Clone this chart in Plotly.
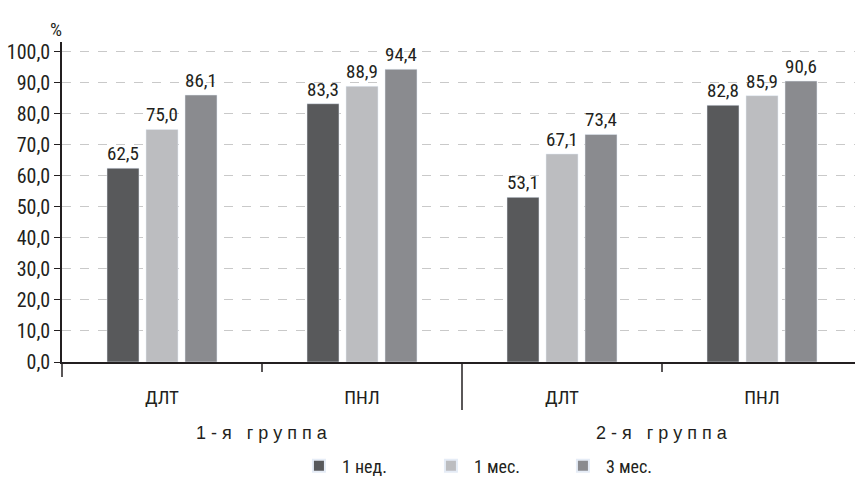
import plotly.graph_objects as go

categories = ["ДЛТ", "ПНЛ", "ДЛТ", "ПНЛ"]
groups = ["1 - я   г р у п п а", "2 - я   г р у п п а"]
series_names = ["1 нед.", "1 мес.", "3 мес."]
week1 = [62.5, 83.3, 53.1, 82.8]
month1 = [75.0, 88.9, 67.1, 85.9]
month3 = [86.1, 94.4, 73.4, 90.6]
y_ticks = [0, 10, 20, 30, 40, 50, 60, 70, 80, 90, 100]

colors = ["#58595b", "#bcbdc0", "#8a8b8f"]
narrow = ("Liberation Sans Narrow, Arial Narrow, Roboto Condensed, "
          "DejaVu Sans Condensed, Liberation Sans, sans-serif")
ink = "#231f20"
x_pos = list(range(len(categories)))

fig = go.Figure()
for name, vals, col in zip(series_names, [week1, month1, month3], colors):
    fig.add_trace(go.Bar(
        x=x_pos, y=vals, name=name, marker_color=col,
        texttemplate="%{y:.1f}", textposition="outside",
        textfont=dict(family=narrow, size=19, color=ink),
        cliponaxis=False,
    ))

# boundary ticks under the category axis; the middle one separates the groups
shapes = []
for xb, length in [(0.5, 0.031), (1.5, 0.15), (2.5, 0.031)]:
    shapes.append(dict(type="line", xref="x", yref="paper", x0=xb, x1=xb,
                       y0=0, y1=-length, line=dict(color=ink, width=1.5)))
# y axis line continues slightly below zero
shapes.append(dict(type="line", xref="paper", yref="paper", x0=0, x1=0,
                   y0=0, y1=-0.047, line=dict(color=ink, width=1.5)))

annotations = [
    dict(text=g, x=xc, xref="x", y=-0.222, yref="paper", yanchor="middle",
         showarrow=False,
         font=dict(family="Liberation Sans, Arial, sans-serif", size=18, color=ink))
    for g, xc in zip(groups, [0.5, 2.5])
]
annotations.append(dict(text="%", x=-0.007, xref="paper", xanchor="center",
                        y=1.04, yref="paper", yanchor="middle", showarrow=False,
                        font=dict(family=narrow, size=19, color=ink)))

fig.update_layout(
    width=855, height=477,
    margin=dict(l=62, r=0, t=42, b=115, autoexpand=False),
    paper_bgcolor="white", plot_bgcolor="white",
    separators=", ",
    barmode="group", bargap=0.415, bargroupgap=0.18,
    showlegend=True,
    legend=dict(orientation="h", x=0.295, xanchor="left", y=-0.325, yanchor="middle",
                font=dict(family=narrow, size=18, color=ink),
                entrywidth=81, entrywidthmode="pixels", itemwidth=36,
                itemsizing="constant"),
    shapes=shapes, annotations=annotations,
    xaxis=dict(
        range=[-0.5, 3.465], tickvals=x_pos, ticktext=categories,
        showline=True, linecolor=ink, linewidth=1.5,
        ticks="outside", ticklen=17, tickcolor="rgba(0,0,0,0)",
        tickfont=dict(family=narrow, size=19, color=ink),
        showgrid=False, zeroline=False,
    ),
    yaxis=dict(
        range=[0, 103.2], tickvals=y_ticks, tickformat=".1f",
        showline=True, linecolor=ink, linewidth=1.5,
        ticks="outside", ticklen=6, tickcolor=ink,
        tickfont=dict(family=narrow, size=20, color=ink),
        showgrid=True, gridcolor="#c9c9c9", gridwidth=1.2, griddash="dash",
        zeroline=False,
    ),
)

fig.write_html("out.html")
